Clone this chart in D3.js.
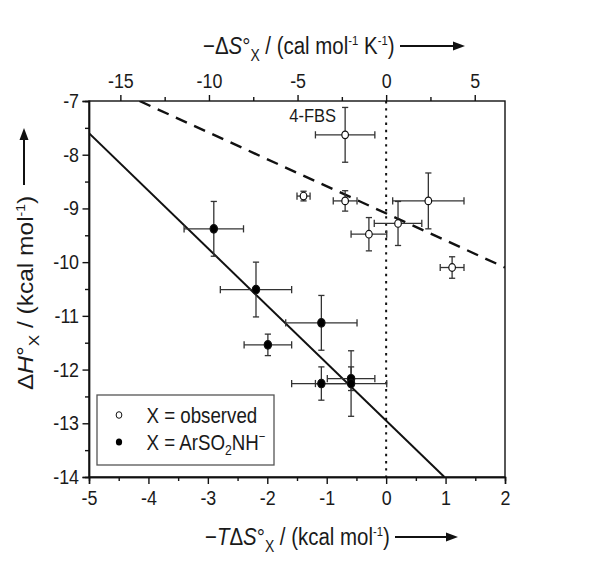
<!DOCTYPE html>
<html><head><meta charset="utf-8">
<script src="https://cdn.jsdelivr.net/npm/d3@7"></script>
<style>body{margin:0;background:#fff}svg{display:block}text{font-family:"Liberation Sans",Arial,sans-serif;fill:#1a1a1a}</style>
</head><body><svg id="c" width="600" height="564"></svg>
<script>
// ---- data ----
const obsX    = [-0.69, -1.39, -0.69, -0.29, 0.20, 0.71, 1.11];
const obsY    = [-7.63, -8.77, -8.86, -9.48, -9.28, -8.86, -10.10];
const obsXErr = [0.50, 0.11, 0.20, 0.30, 0.40, 0.60, 0.20];
const obsYErr = [0.51, 0.09, 0.19, 0.31, 0.41, 0.52, 0.20];
const arsX    = [-2.90, -2.19, -1.09, -1.99, -1.09, -0.59, -0.59];
const arsY    = [-9.38, -10.51, -11.13, -11.54, -12.26, -12.17, -12.26];
const arsXErr = [0.50, 0.60, 0.60, 0.40, 0.50, 0.40, 0.60];
const arsYErr = [0.51, 0.51, 0.51, 0.20, 0.31, 0.22, 0.61];
const solidFitX = [-5, 0.98];
const solidFitY = [-7.6, -14];
const dashedFitX = [-4.15, 2];
const dashedFitY = [-7.0, -10.1];
const bottomTicks = [-5, -4, -3, -2, -1, 0, 1, 2];
const leftTicks = [-7, -8, -9, -10, -11, -12, -13, -14];
const topTicks = [-15, -10, -5, 0, 5];
const T = 298.15;
const labelFBS = "4-FBS";

const svg = d3.select("#c");
const L = 89, R = 505, Tp = 101, B = 477;
const SQ = 0.87;   // horizontal squeeze of the lettering
const x = d3.scaleLinear().domain([-5, 2]).range([L, R]);
const y = d3.scaleLinear().domain([-7, -14]).range([Tp, B]);
const xTop = d3.scaleLinear().domain([-5 * 1000 / T, 2 * 1000 / T]).range([L, R]);
const FS = 20.5, TFS = 23.5;

svg.append("rect").attr("x", L).attr("y", Tp).attr("width", R - L).attr("height", B - Tp)
  .attr("fill", "none").attr("stroke", "#111").attr("stroke-width", 1.4);

function styleAxis(g) {
  g.selectAll("path").attr("stroke", "#111").attr("stroke-width", 1.4);
  g.selectAll("line").attr("stroke", "#111").attr("stroke-width", 1.4);
  g.selectAll("text").attr("font-size", FS).style("font-family", '"Liberation Sans",Arial,sans-serif')
    .attr("fill", "#1a1a1a")
    .each(function () {
      const t = d3.select(this); const xx = +t.attr("x") || 0;
      t.attr("x", 0).attr("transform", `translate(${xx},0) scale(${SQ},1)`);
    });
}
const fmt = d => d < 0 ? "-" + Math.abs(d) : String(d);

// bottom axis
const gB = svg.append("g").attr("transform", `translate(0,${B})`)
  .call(d3.axisBottom(x).tickValues(d3.range(-4.5, 2, 1)).tickSize(4).tickFormat(""));
const gB2 = svg.append("g").attr("transform", `translate(0,${B})`)
  .call(d3.axisBottom(x).tickValues(bottomTicks).tickSize(7).tickPadding(6).tickFormat(fmt));
styleAxis(gB); styleAxis(gB2);

// left axis
const gL = svg.append("g").attr("transform", `translate(${L},0)`)
  .call(d3.axisLeft(y).tickValues(d3.range(-7.5, -14, -1)).tickSize(4).tickFormat(""));
const gL2 = svg.append("g").attr("transform", `translate(${L},0)`)
  .call(d3.axisLeft(y).tickValues(leftTicks).tickSize(6.5).tickPadding(3.5).tickFormat(fmt));
styleAxis(gL); styleAxis(gL2);

// top axis
const gT = svg.append("g").attr("transform", `translate(0,${Tp})`)
  .call(d3.axisTop(xTop).tickValues([-12.5, -7.5, -2.5, 2.5]).tickSize(4).tickFormat(""));
const gT2 = svg.append("g").attr("transform", `translate(0,${Tp})`)
  .call(d3.axisTop(xTop).tickValues(topTicks).tickSize(6).tickPadding(7).tickFormat(fmt));
styleAxis(gT); styleAxis(gT2);
[gT, gT2].forEach(g => g.select("path").remove());

svg.append("clipPath").attr("id", "clip").append("rect")
  .attr("x", L).attr("y", Tp).attr("width", R - L).attr("height", B - Tp);
const plot = svg.append("g").attr("clip-path", "url(#clip)");

// dotted zero line
plot.append("line").attr("x1", x(0)).attr("x2", x(0)).attr("y1", y(-7)).attr("y2", y(-14))
  .attr("stroke", "#111").attr("stroke-width", 2).attr("stroke-dasharray", "2.4,4.8");

const line = d3.line().x(d => x(d[0])).y(d => y(d[1]));
plot.append("path").datum(solidFitX.map((v, i) => [v, solidFitY[i]])).attr("d", line)
  .attr("fill", "none").attr("stroke", "#111").attr("stroke-width", 2);
plot.append("path").datum(dashedFitX.map((v, i) => [v, dashedFitY[i]])).attr("d", line)
  .attr("fill", "none").attr("stroke", "#111").attr("stroke-width", 2.4).attr("stroke-dasharray", "12,8");

function drawSeries(xs, ys, xe, ye, filled) {
  const data = xs.map((v, i) => ({x: v, y: ys[i], xe: xe[i], ye: ye[i]}));
  const capH = 3.6, capW = 3.1;
  const g = plot.append("g").attr("stroke", "#333").attr("stroke-width", 1.3);
  data.forEach(d => {
    g.append("line").attr("x1", x(d.x - d.xe)).attr("x2", x(d.x + d.xe)).attr("y1", y(d.y)).attr("y2", y(d.y));
    g.append("line").attr("x1", x(d.x)).attr("x2", x(d.x)).attr("y1", y(d.y - d.ye)).attr("y2", y(d.y + d.ye));
    [d.x - d.xe, d.x + d.xe].forEach(v => g.append("line").attr("x1", x(v)).attr("x2", x(v)).attr("y1", y(d.y) - capH).attr("y2", y(d.y) + capH));
    [d.y - d.ye, d.y + d.ye].forEach(v => g.append("line").attr("y1", y(v)).attr("y2", y(v)).attr("x1", x(d.x) - capW).attr("x2", x(d.x) + capW));
  });
  const r = filled ? 4.2 : 3.8;
  plot.append("g").selectAll("ellipse").data(data).join("ellipse")
    .attr("cx", d => x(d.x)).attr("cy", d => y(d.y)).attr("rx", r * SQ).attr("ry", r)
    .attr("fill", filled ? "#000" : "#fff").attr("stroke", "#111").attr("stroke-width", 1.2);
}
drawSeries(obsX, obsY, obsXErr, obsYErr, false);
drawSeries(arsX, arsY, arsXErr, arsYErr, true);

function stext(tx, ty, size, extra) {
  const g = svg.append("g").attr("transform", `translate(${tx},${ty}) scale(${SQ},1)${extra || ""}`);
  return g.append("text").attr("x", 0).attr("y", 0).attr("font-size", size);
}

// 4-FBS label
stext(x(obsX[0]) - 9, y(obsY[0]) - 13, 19).attr("text-anchor", "end").text(labelFBS);

function arrow(x1, y1, x2, y2) {
  const ang = Math.atan2(y2 - y1, x2 - x1), hl = 12, hw = 4.5;
  const bx = x2 - hl * Math.cos(ang), by = y2 - hl * Math.sin(ang);
  svg.append("line").attr("x1", x1).attr("y1", y1).attr("x2", bx).attr("y2", by).attr("stroke", "#111").attr("stroke-width", 2);
  svg.append("path").attr("d", `M${x2},${y2}L${bx - hw * Math.sin(ang)},${by + hw * Math.cos(ang)}L${bx + hw * Math.sin(ang)},${by - hw * Math.cos(ang)}Z`).attr("fill", "#111");
}

function subsup(t, parts) {
  parts.forEach(p => {
    const s = t.append("tspan").text(p.t);
    if (p.i) s.attr("font-style", "italic");
    if (p.fs) s.attr("font-size", p.fs);
    if (p.dy) s.attr("dy", p.dy);
  });
}

// top title
subsup(stext(203, 54, TFS), [
  {t: "\u2212\u0394"}, {t: "S", i: 1}, {t: "\u00B0"}, {t: "X", fs: 16, dy: 7},
  {t: " / (cal mol", dy: -7}, {t: "-1", fs: 13, dy: -9}, {t: " K", dy: 9}, {t: "-1", fs: 13, dy: -9}, {t: ")", dy: 9}
]);
arrow(400, 46, 465, 46);

// bottom title
subsup(stext(205, 545, TFS), [
  {t: "\u2212"}, {t: "T", i: 1}, {t: "\u0394"}, {t: "S", i: 1}, {t: "\u00B0"}, {t: "X", fs: 16, dy: 7},
  {t: " / (kcal mol", dy: -7}, {t: "-1", fs: 13, dy: -9}, {t: ")", dy: 9}
]);
arrow(395, 537, 458, 537);

// left title (rotated)
subsup(stext(33, 390, 24.5, " rotate(-90)"), [
  {t: "\u0394"}, {t: "H", i: 1}, {t: "\u00B0"}, {t: "X", fs: 17, dy: 7},
  {t: " / (kcal mol", dy: -7}, {t: "-1", fs: 14, dy: -9}, {t: ")", dy: 9}
]);
arrow(24, 185, 24, 128);

// legend
const lg = svg.append("g");
lg.append("rect").attr("x", 97).attr("y", 395).attr("width", 177).attr("height", 70)
  .attr("fill", "#fff").attr("stroke", "#555").attr("stroke-width", 1.3);
lg.append("ellipse").attr("cx", 119).attr("cy", 415).attr("rx", 3.3 * SQ).attr("ry", 3.3).attr("fill", "#fff").attr("stroke", "#111").attr("stroke-width", 1);
lg.append("ellipse").attr("cx", 119).attr("cy", 442).attr("rx", 3.6 * SQ).attr("ry", 3.6).attr("fill", "#000");
stext(146.5, 422.5, 21.5).text("X = observed");
subsup(stext(146.5, 449.5, 21.5), [
  {t: "X = ArSO"}, {t: "2", fs: 14, dy: 5}, {t: "NH", dy: -5}, {t: "\u2212", fs: 13, dy: -9}
]);
</script></body></html>
